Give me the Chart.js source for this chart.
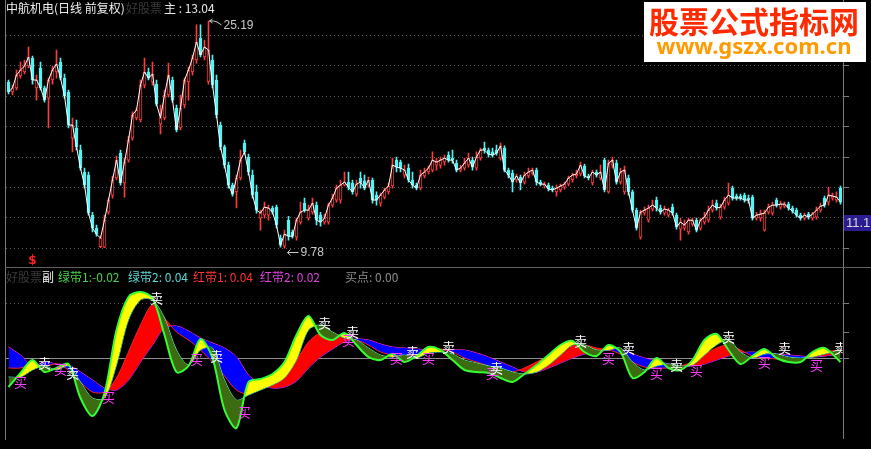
<!DOCTYPE html>
<html>
<head>
<meta charset="utf-8">
<script src="https://cdn.jsdelivr.net/npm/chart.js@4.4.0/dist/chart.umd.min.js"></script>
<style>
html, body { margin: 0; padding: 0; background: #000; }
#wrap { position: relative; width: 871px; height: 449px; overflow: hidden; background: #000; }
#main { position: absolute; left: 0; top: 0; }
#sub { position: absolute; left: 0; top: 268px; }
</style>
</head>
<body>
<div id="wrap">
  <canvas id="main" width="871" height="268"></canvas>
  <canvas id="sub" width="871" height="181"></canvas>
</div>
<script>
// 日线 K 线 (前复权)
const opens = [19.54,18.74,19.06,20.03,20.37,20.88,21.59,19.06,20.71,19.06,
  18.27,19.70,20.37,21.23,19.86,18.74,15.47,16.13,14.72,13.43,
  13.26,11.22,10.63,9.84,9.82,11.36,12.20,13.10,14.53,12.83,
  14.11,15.47,16.82,16.68,19.29,20.37,19.54,19.37,16.40,16.82,
  18.51,19.70,17.53,16.13,17.75,19.54,20.37,21.41,23.46,21.68,
  19.54,21.41,19.70,16.33,14.91,13.82,12.72,12.36,13.10,15.15,
  14.29,13.26,12.36,11.08,11.22,11.22,11.56,11.60,10.20,9.86,
  10.99,10.46,10.24,10.90,11.80,11.08,11.36,11.70,11.22,10.90,
  10.90,11.70,11.95,11.95,12.72,12.88,12.83,12.25,13.10,12.94,
  12.72,12.99,12.20,11.80,12.10,12.36,12.67,14.11,13.99,13.26,
  13.65,12.99,12.72,12.56,13.21,13.43,13.54,13.82,13.82,13.99,
  14.41,14.23,13.93,13.54,13.65,13.82,14.11,13.65,14.23,14.84,
  14.72,14.60,14.72,14.23,14.84,13.54,13.37,12.99,13.15,12.88,
  13.21,13.37,13.54,12.88,12.67,12.72,12.56,12.36,12.46,12.61,
  12.77,12.99,13.21,13.32,13.76,13.21,12.83,13.43,13.10,14.11,
  12.36,13.82,13.93,12.88,12.36,13.10,12.36,11.46,10.24,11.32,
  10.99,11.51,11.95,11.56,11.32,11.22,11.60,11.22,10.59,10.63,
  10.46,10.81,10.99,10.63,10.90,10.99,11.46,11.80,11.13,11.60,
  11.80,12.56,12.15,12.15,12.20,12.05,12.10,11.08,11.08,10.54,
  11.36,11.32,11.95,11.60,11.65,11.75,11.56,11.46,11.22,11.08,
  11.27,11.08,11.13,11.46,12.05,11.85,12.05,11.95,12.56];
const highs = [19.70,19.29,20.54,21.23,21.41,22.60,21.77,20.11,21.23,19.21,
  19.86,20.88,22.32,21.59,20.20,18.90,16.82,16.68,15.03,13.65,
  13.43,11.36,10.77,10.28,11.22,12.05,13.21,14.35,14.72,14.23,
  15.60,17.25,17.53,19.70,21.59,20.71,21.23,19.70,17.75,18.90,
  21.14,19.95,17.75,18.51,19.86,20.80,21.86,24.78,24.78,23.27,
  25.19,21.86,20.11,16.54,15.03,13.99,12.83,13.26,14.72,15.34,
  14.47,13.54,12.72,11.46,11.85,11.70,11.65,11.70,10.33,10.54,
  11.17,10.54,11.08,11.85,12.05,11.70,12.05,11.85,11.36,11.27,
  11.80,12.25,12.72,12.99,13.43,13.43,12.99,12.99,13.43,13.26,
  13.15,13.10,12.36,12.30,12.56,12.83,14.23,14.29,14.11,13.82,
  13.88,13.43,12.83,13.54,13.65,13.76,14.60,14.23,14.29,14.41,
  14.60,14.72,14.11,13.82,14.23,14.53,14.29,14.60,14.84,15.21,
  14.84,14.84,15.03,15.15,14.97,13.65,13.54,13.32,13.26,13.43,
  13.65,13.65,13.65,12.99,12.88,12.83,12.67,12.72,12.77,12.88,
  13.21,13.37,13.54,13.99,13.88,13.32,13.54,13.54,13.82,14.23,
  14.11,14.29,14.11,13.65,13.76,13.26,12.46,11.56,11.46,11.60,
  11.70,11.95,12.10,11.70,11.65,11.56,11.75,11.32,11.08,10.99,
  11.08,11.08,11.08,11.08,11.36,11.65,11.95,11.95,11.75,12.10,
  12.83,12.67,12.25,12.25,12.30,12.20,12.20,11.36,11.46,11.46,
  11.75,11.85,12.05,11.90,11.85,11.85,11.65,11.56,11.32,11.32,
  11.36,11.36,11.60,11.80,12.15,12.61,12.30,12.36,12.67];
const lows = [18.59,18.51,18.90,19.86,20.20,20.71,19.37,18.12,18.90,17.97,
  16.13,19.37,19.86,19.70,18.27,16.13,14.60,14.72,13.54,12.56,
  11.22,10.46,10.28,9.80,9.80,11.27,12.05,12.99,12.72,12.10,
  13.99,15.34,16.68,16.54,19.06,19.70,19.29,17.68,15.74,16.68,
  18.35,17.97,15.87,16.00,17.53,18.12,20.11,21.14,21.68,21.41,
  19.37,19.06,16.82,14.72,13.65,12.56,12.15,11.56,12.99,14.47,
  13.26,12.05,11.32,10.54,11.08,10.99,11.27,10.63,9.82,9.78,
  10.11,10.20,10.11,10.81,11.36,10.99,11.27,10.77,10.72,10.81,
  10.81,11.60,11.85,11.80,12.67,12.46,12.25,12.15,12.56,12.46,
  12.61,11.80,11.70,11.65,12.00,12.25,12.56,13.43,13.43,13.10,
  12.88,12.56,12.46,12.46,13.10,13.32,13.43,13.54,13.65,13.82,
  13.99,13.93,13.43,13.43,13.54,13.71,13.54,13.54,14.11,14.53,
  14.29,14.29,14.41,14.11,13.43,13.10,12.36,12.88,12.46,12.77,
  13.10,13.26,12.72,12.67,12.56,12.41,12.36,12.15,12.36,12.51,
  12.67,12.88,13.10,13.21,13.10,12.99,12.72,13.15,12.99,12.36,
  12.30,13.65,12.77,12.77,12.25,12.20,11.36,10.54,10.15,11.22,
  10.90,11.41,11.41,11.27,11.22,11.13,11.22,10.59,10.11,10.54,
  10.37,10.72,10.46,10.54,10.81,10.90,11.36,11.46,11.04,11.51,
  11.70,11.95,11.95,11.95,11.85,11.80,10.99,10.99,10.94,10.50,
  11.27,11.22,11.60,11.51,11.56,11.46,11.32,11.13,10.99,10.99,
  11.04,10.99,11.04,11.36,11.60,11.70,11.95,11.85,11.75];
const closes = [18.74,19.06,20.11,20.54,20.88,21.68,19.70,19.70,19.06,18.12,
  19.70,20.54,21.06,19.86,18.43,16.33,16.33,14.91,13.65,12.72,
  11.32,10.63,10.37,10.20,10.99,11.95,12.99,14.11,12.83,13.99,
  15.34,17.03,17.39,19.29,20.37,19.86,20.20,17.82,16.82,18.51,
  20.11,18.12,16.00,17.53,19.70,20.54,21.59,23.08,21.86,22.60,
  22.32,19.29,17.03,14.91,13.82,12.72,12.25,13.10,14.11,14.60,
  13.43,12.20,11.46,11.32,11.60,11.56,11.36,10.77,9.90,10.37,
  10.28,10.28,10.99,11.36,11.46,11.46,11.80,10.99,10.90,11.08,
  11.70,12.05,12.56,12.72,12.88,12.61,12.36,12.77,12.88,12.56,
  12.99,11.95,11.95,12.20,12.46,12.67,13.82,13.71,13.65,13.54,
  12.99,12.72,12.56,13.26,13.43,13.65,14.11,13.99,14.11,14.23,
  14.11,14.11,13.54,13.65,13.93,14.23,13.71,14.29,14.72,14.72,
  14.47,14.41,14.53,14.97,13.54,13.26,12.88,13.21,12.83,13.26,
  13.43,13.54,12.88,12.77,12.77,12.51,12.46,12.56,12.67,12.77,
  13.10,13.26,13.32,13.82,13.21,13.10,13.43,13.26,13.43,12.46,
  13.93,14.11,12.88,13.43,13.54,12.36,11.46,10.63,11.36,11.46,
  11.56,11.70,11.56,11.36,11.51,11.46,11.32,10.68,10.90,10.77,
  10.99,10.99,10.54,10.99,11.13,11.46,11.70,11.56,11.60,11.95,
  12.20,12.05,12.05,12.05,11.95,11.95,11.08,11.22,11.27,11.32,
  11.60,11.70,11.70,11.75,11.75,11.56,11.41,11.22,11.08,11.22,
  11.13,11.27,11.46,11.65,11.70,12.20,12.15,12.10,11.85];
const gridVals = [9.80, 11.12, 12.62, 14.32, 16.25, 18.44, 20.93, 23.75];

// 副图: 绿带 / 红带
const bandIdx = [0,3,6,9,12,15,18,21,24,27,30,33,36,39,42,45,48,51,54,57,
  60,63,66,69,72,75,78,81,84,87,90,93,96,99,102,105,108,111,114,117,
  120,123,126,129,132,135,138,141,144,147,150,153,156,159,162,165,168,171,174,177,
  180,183,186,189,192,195,198,201,204,208];
const green1 = [-0.145,-0.075,-0.01,-0.07,-0.05,-0.03,-0.2,-0.29,-0.175,0.14,
  0.305,0.33,0.3,0.115,-0.07,-0.04,0.095,0,-0.26,-0.35,
  -0.12,-0.105,-0.08,-0.02,0.115,0.21,0.115,0.09,0.125,0.065,
  0.005,-0.01,0.02,-0.02,0.01,0.055,0.04,-0.01,-0.06,-0.07,
  -0.075,-0.1,-0.12,-0.08,-0.035,0.015,0.065,0.085,0.03,0.01,
  0.065,0.03,-0.1,-0.07,0,-0.05,-0.06,-0.01,0.09,0.12,
  0.04,-0.03,0.01,0.045,0,-0.02,-0.02,0.03,0.05,-0.02];
const green2 = [-0.095,-0.095,-0.06,-0.04,-0.06,-0.04,-0.12,-0.2,-0.2,-0.035,
  0.19,0.29,0.29,0.2,0.04,-0.035,0.04,0.05,-0.11,-0.21,
  -0.185,-0.16,-0.135,-0.1,-0.01,0.14,0.165,0.13,0.1,0.09,
  0.05,0.015,0.005,0.015,0,0.025,0.03,0.02,-0.01,-0.025,
  -0.04,-0.05,-0.07,-0.08,-0.07,-0.035,0.015,0.065,0.065,0.04,
  0.04,0.05,-0.02,-0.06,-0.04,-0.03,-0.04,-0.035,0.015,0.065,
  0.09,0.03,0,0.02,0.02,0.005,0,0.005,0.02,0.04];
const red1 = [-0.05,-0.05,-0.03,-0.04,-0.03,-0.06,-0.12,-0.17,-0.17,-0.1,
  0.03,0.165,0.265,0.2,0.13,0.09,0.04,-0.02,-0.09,-0.16,
  -0.18,-0.14,-0.11,-0.07,-0.01,0.08,0.125,0.12,0.105,0.09,
  0.065,0.03,0.015,0.01,0.015,0.03,0.045,0.03,0,-0.02,
  -0.04,-0.07,-0.07,-0.05,-0.02,0.01,0.04,0.06,0.065,0.05,
  0.04,0.02,-0.02,-0.045,-0.05,-0.05,-0.04,-0.02,0.015,0.05,
  0.065,0.04,0.01,0,-0.005,-0.01,-0.005,0.01,0.03,0.04];
const red2 = [0.055,0.015,-0.04,-0.02,-0.03,-0.035,-0.07,-0.11,-0.15,-0.16,
  -0.11,-0.02,0.065,0.15,0.16,0.135,0.1,0.075,0.05,0.005,
  -0.085,-0.13,-0.15,-0.145,-0.115,-0.05,0.005,0.045,0.08,0.095,
  0.09,0.07,0.055,0.05,0.045,0.04,0.035,0.04,0.04,0.025,
  0.005,-0.02,-0.045,-0.07,-0.07,-0.05,-0.025,0,0.02,0.03,
  0.04,0.045,0.02,0,-0.015,-0.03,-0.04,-0.04,-0.03,-0.01,
  0.01,0.025,0.03,0.025,0.02,0.015,0.01,0.005,0.01,0.02];
const sellIdx = [9,16,37,52,79,86,101,110,122,143,155,167,180,194,208];
const sellVal = [-0.025,-0.075,0.3,0.01,0.175,0.13,0.03,0.055,-0.05,0.085,0.05,-0.035,0.105,0.05,0.05];
const buyIdx = [3,13,25,47,59,85,97,105,121,150,162,172,189,202];
const buyVal = [-0.12,-0.055,-0.195,-0.005,-0.27,0.09,0,0,-0.075,0,-0.075,-0.06,-0.02,-0.035];
const subGrid = [0.275];

const RED = '#ff3c3c';
const CYAN = '#54f4f4';
const labels = closes.map((c, i) => i);
const candleColors = closes.map((c, i) => c >= opens[i] ? RED : CYAN);
const bodyFill = closes.map((c, i) => c >= opens[i] ? '#000000' : CYAN);

function hline(ctx, x1, x2, y) {
  ctx.beginPath(); ctx.moveTo(x1, y); ctx.lineTo(x2, y); ctx.stroke();
}
function vline(ctx, x, y1, y2) {
  ctx.beginPath(); ctx.moveTo(x, y1); ctx.lineTo(x, y2); ctx.stroke();
}

const mainDecor = {
  id: 'mainDecor',
  beforeDatasetsDraw(chart) {
    const { ctx, chartArea: a, scales: { y } } = chart;
    ctx.save();
    ctx.strokeStyle = '#5c5c5c';
    ctx.lineWidth = 1;
    ctx.setLineDash([1, 3]);
    gridVals.forEach(v => hline(ctx, 6, a.right, Math.round(y.getPixelForValue(v)) + 0.5));
    ctx.restore();
  },
  afterDraw(chart) {
    const { ctx, chartArea: a, scales: { x, y } } = chart;
    ctx.save();
    // 边框
    ctx.strokeStyle = '#7a7a7a';
    ctx.lineWidth = 1;
    vline(ctx, 5.5, 0, 268);
    vline(ctx, 843.5, 0, 268);
    ctx.strokeStyle = '#606060';
    hline(ctx, 5, 871, 267.5);
    ctx.strokeStyle = '#7a7a7a';
    gridVals.forEach(v => {
      const py = Math.round(y.getPixelForValue(v)) + 0.5;
      hline(ctx, 843, 849, py);
    });

    // 标题
    ctx.textBaseline = 'middle';
    ctx.font = '12px "Noto Sans CJK SC"';
    ctx.fillStyle = '#f0f0f0';
    ctx.fillText('中航机电(日线 前复权)', 6, 8);
    ctx.fillStyle = '#3a3a3a';
    ctx.fillText('好股票', 126, 8);
    ctx.fillStyle = '#e8e8e8';
    ctx.fillText('主 : 13.04', 164, 8);

    // 最高 / 最低
    const hiIdx = highs.indexOf(Math.max(...highs));
    const loIdx = lows.indexOf(Math.min(...lows));
    const hx = x.getPixelForValue(hiIdx), hy = y.getPixelForValue(highs[hiIdx]);
    const lx = x.getPixelForValue(loIdx), ly = y.getPixelForValue(lows[loIdx]);
    ctx.strokeStyle = '#c8c8c8';
    ctx.fillStyle = '#c8c8c8';
    ctx.beginPath();
    ctx.moveTo(hx + 1, hy); ctx.lineTo(hx + 5, hy);
    ctx.quadraticCurveTo(hx + 8, hy, hx + 13, hy + 4);
    ctx.moveTo(hx + 1, hy); ctx.lineTo(hx + 4, hy - 2);
    ctx.moveTo(hx + 1, hy); ctx.lineTo(hx + 4, hy + 2);
    ctx.stroke();
    ctx.font = '12px "Liberation Sans"';
    ctx.fillText(highs[hiIdx].toFixed(2), hx + 15, hy + 5);
    const ay = Math.round(ly + 4) + 0.5;
    ctx.beginPath();
    ctx.moveTo(lx + 3, ay); ctx.lineTo(lx + 14, ay);
    ctx.moveTo(lx + 3, ay); ctx.lineTo(lx + 6, ay - 3);
    ctx.moveTo(lx + 3, ay); ctx.lineTo(lx + 6, ay + 3);
    ctx.stroke();
    ctx.fillText(lows[loIdx].toFixed(2), lx + 16, ay);

    // 信号 S
    ctx.fillStyle = '#ff2020';
    ctx.font = 'bold 12px "DejaVu Sans"';
    ctx.textAlign = 'center';
    ctx.fillText('$', x.getPixelForValue(6), 261);
    ctx.textAlign = 'left';

    // 右侧价格框
    ctx.fillStyle = '#2c1c92';
    ctx.fillRect(844, 215, 27, 16);
    ctx.fillStyle = '#d8d8d8';
    ctx.font = '13px "Liberation Sans"';
    ctx.fillText('11.1', 846, 223);

    // 水印
    ctx.fillStyle = '#ffffff';
    ctx.fillRect(644, 2, 222, 60);
    ctx.textAlign = 'center';
    ctx.fillStyle = '#ff2a00';
    ctx.font = 'bold 30px "Noto Sans CJK SC"';
    ctx.fillText('股票公式指标网', 754, 22);
    ctx.fillStyle = '#ff9a00';
    ctx.font = 'bold 22px "Noto Sans"';
    ctx.fillText('www.gszx.com.cn', 754, 48);
    ctx.restore();
  }
};

new Chart(document.getElementById('main'), {
  type: 'bar',
  data: {
    labels: labels,
    datasets: [
      {
        type: 'line', data: closes, borderColor: '#ffffff', borderWidth: 1,
        pointRadius: 0, tension: 0, order: 0
      },
      {
        data: opens.map((o, i) => [o, closes[i]]),
        backgroundColor: bodyFill, borderColor: candleColors, borderWidth: 1,
        borderSkipped: false, barThickness: 3, grouped: false, order: 1
      },
      {
        data: lows.map((l, i) => [l, highs[i]]),
        backgroundColor: candleColors, borderWidth: 0,
        barThickness: 1, grouped: false, order: 2
      }
    ]
  },
  options: {
    responsive: false,
    animation: false,
    layout: { padding: { left: 6.5, right: 28.5, top: 0, bottom: 2 } },
    plugins: { legend: { display: false }, tooltip: { enabled: false } },
    scales: {
      x: { display: false, offset: true },
      y: { type: 'logarithmic', display: false, min: 9.08, max: 27.49 }
    }
  },
  plugins: [mainDecor]
});

const subDecor = {
  id: 'subDecor',
  beforeDatasetsDraw(chart) {
    const { ctx, chartArea: a, scales: { y } } = chart;
    ctx.save();
    ctx.lineWidth = 1;
    ctx.strokeStyle = '#5c5c5c';
    ctx.setLineDash([1, 3]);
    subGrid.forEach(v => hline(ctx, 6, a.right, Math.round(y.getPixelForValue(v)) + 0.5));
    ctx.setLineDash([]);
    ctx.strokeStyle = '#8e8e8e';
    hline(ctx, 6, a.right, Math.round(y.getPixelForValue(0)) + 0.5);
    ctx.restore();
  },
  afterDatasetsDraw(chart) {
    const { ctx, chartArea: a, scales: { x, y } } = chart;
    ctx.save();
    ctx.beginPath();
    ctx.rect(a.left, 0, a.right - a.left, 181);
    ctx.clip();
    ctx.font = '13px "Noto Sans CJK SC"';
    ctx.textAlign = 'center';
    ctx.textBaseline = 'middle';
    ctx.fillStyle = '#ff3cff';
    buyIdx.forEach((i, k) => ctx.fillText('买', x.getPixelForValue(i), y.getPixelForValue(buyVal[k])));
    ctx.fillStyle = '#ffffff';
    sellIdx.forEach((i, k) => ctx.fillText('卖', x.getPixelForValue(i), y.getPixelForValue(sellVal[k])));
    ctx.restore();
  },
  afterDraw(chart) {
    const { ctx, scales: { y } } = chart;
    ctx.save();
    ctx.strokeStyle = '#7a7a7a';
    ctx.lineWidth = 1;
    vline(ctx, 5.5, 0, 172);
    vline(ctx, 843.5, 0, 171);
    [0.275, 0.13, 0].forEach(v => hline(ctx, 843, 849, Math.round(y.getPixelForValue(v)) + 0.5));

    ctx.textBaseline = 'middle';
    ctx.font = '12px "Noto Sans CJK SC"';
    const legend = [
      ['好股票', 6, '#3a3a3a'],
      ['副', 42, '#f0f0f0'],
      ['绿带1:-0.02', 58, '#44d444'],
      ['绿带2: 0.04', 128, '#5ed6d6'],
      ['红带1: 0.04', 193, '#ff3434'],
      ['红带2: 0.02', 260, '#e040e0'],
      ['买点: 0.00', 345, '#8c8c8c']
    ];
    legend.forEach(([t, lx, c]) => { ctx.fillStyle = c; ctx.fillText(t, lx, 9); });
    ctx.restore();
  }
};

const pts = arr => arr.map((v, k) => ({ x: bandIdx[k], y: v }));

new Chart(document.getElementById('sub'), {
  type: 'line',
  data: {
    datasets: [
      {
        label: '绿带1', data: pts(green1), borderColor: '#33ff33', borderWidth: 2,
        pointRadius: 0, tension: 0.3,
        fill: { target: 1, above: '#ffff00', below: '#3d6b12' }
      },
      {
        label: '绿带2', data: pts(green2), borderColor: '#30e0e0', borderWidth: 1,
        pointRadius: 0, tension: 0.3, fill: false
      },
      {
        label: '红带1', data: pts(red1), borderColor: '#ff2020', borderWidth: 1,
        pointRadius: 0, tension: 0.3,
        fill: { target: 3, above: '#ff0000', below: '#0000ff' }
      },
      {
        label: '红带2', data: pts(red2), borderColor: '#ff30ff', borderWidth: 1,
        pointRadius: 0, tension: 0.3, fill: false
      }
    ]
  },
  options: {
    responsive: false,
    animation: false,
    layout: { padding: { left: 6.5, right: 28.5, top: 14, bottom: 9 } },
    plugins: { legend: { display: false }, tooltip: { enabled: false } },
    scales: {
      x: { type: 'linear', display: false, min: -0.5, max: 208.5 },
      y: { display: false, min: -0.41, max: 0.38 }
    }
  },
  plugins: [subDecor]
});
</script>
</body>
</html>
